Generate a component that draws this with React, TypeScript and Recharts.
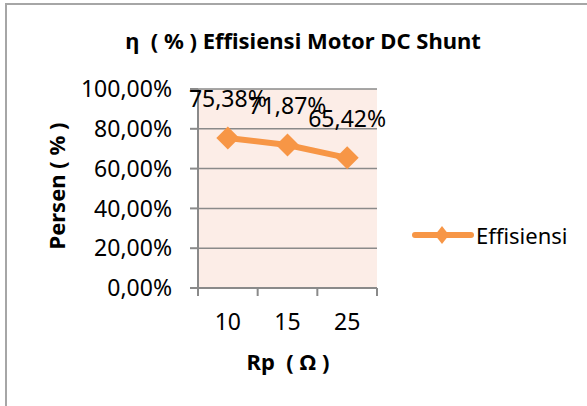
import React from 'react';
import { LineChart, Line, XAxis, YAxis, CartesianGrid, Legend, LabelList, Label } from 'recharts';

const categories = ['10', '15', '25'];
const efficiency = [0.7538, 0.7187, 0.6542];
const yTicks = [0, 0.2, 0.4, 0.6, 0.8, 1.0];
const seriesName = 'Effisiensi';
const title = 'η  ( % ) Effisiensi Motor DC Shunt';
const xTitle = 'Rp  ( Ω )';
const yTitle = 'Persen ( % )';

const data = categories.map((c, i) => ({ x: i + 0.5, cat: c, v: efficiency[i] }));
const xTicks = [0, 0.5, 1, 1.5, 2, 2.5, 3];

const FONT = '"Noto Sans", sans-serif';
const ORANGE = '#F79646';
const GRID = '#8a8a8a';

const fmtPct = (v: number) => (v * 100).toFixed(2).replace('.', ',') + '%';

const XTick = (props: any) => {
  const { x, y, payload } = props;
  const val = payload.value as number;
  if (Number.isInteger(val)) {
    return <line x1={x} x2={x} y1={y} y2={y + 8} stroke={GRID} strokeWidth={2} />;
  }
  const idx = Math.floor(val);
  return (
    <text x={x} y={y + 42} textAnchor="middle" fontFamily={FONT} fontSize={23} fill="#000">
      {categories[idx]}
    </text>
  );
};

const Diamond = (props: any) => {
  const { cx, cy } = props;
  if (cx == null || cy == null) return null;
  const s = 11.5;
  return <polygon points={`${cx},${cy - s} ${cx + s},${cy} ${cx},${cy + s} ${cx - s},${cy}`} fill={ORANGE} />;
};

const ValueLabel = (props: any) => {
  const { x, y, value } = props;
  return (
    <text x={x} y={y - 31} textAnchor="middle" fontFamily={FONT} fontSize={23} fill="#000">
      {fmtPct(value)}
    </text>
  );
};

const LegendContent = () => (
  <div style={{ display: 'flex', alignItems: 'center', width: 200, fontFamily: FONT, fontSize: 22, color: '#000', whiteSpace: 'nowrap' }}>
    <svg width={62} height={20} style={{ display: 'block', flexShrink: 0 }}>
      <line x1={3} x2={59} y1={10} y2={10} stroke={ORANGE} strokeWidth={6} strokeLinecap="round" />
      <polygon points="30,1 37,10 30,19 23,10" fill={ORANGE} />
    </svg>
    <span style={{ marginLeft: 2 }}>{seriesName}</span>
  </div>
);

export default function App() {
  return (
    <div style={{ position: 'absolute', left: 0, top: 0, width: 587, height: 406, overflow: 'hidden', background: '#fff' }}>
      <div style={{ position: 'absolute', left: 5, top: 3, width: 620, height: 440, borderLeft: '2px solid #a6a6a6', borderTop: '2px solid #a6a6a6' }} />
      <LineChart width={587} height={406} data={data} margin={{ top: 89, right: 210, bottom: 0, left: 0 }}>
        <text x={303} y={49} textAnchor="middle" fontFamily={FONT} fontSize={22} fontWeight="bold" fill="#000" style={{ whiteSpace: 'pre' }}>
          {title}
        </text>
        <CartesianGrid vertical={false} stroke={GRID} strokeWidth={1.5} fill="#FCEDE7" fillOpacity={1} />
        <XAxis
          dataKey="x"
          type="number"
          domain={[0, 3]}
          ticks={xTicks}
          interval={0}
          height={118}
          tickSize={0}
          tickMargin={0}
          tickLine={false}
          axisLine={{ stroke: GRID, strokeWidth: 2 }}
          tick={<XTick />}
        >
          <Label
            content={() => (
              <text x={288} y={370} textAnchor="middle" fontFamily={FONT} fontSize={22} fontWeight="bold" fill="#000" style={{ whiteSpace: 'pre' }}>
                {xTitle}
              </text>
            )}
          />
        </XAxis>
        <YAxis
          type="number"
          domain={[0, 1]}
          ticks={yTicks}
          interval={0}
          width={198}
          tickSize={8}
          tickMargin={18}
          tickLine={{ stroke: GRID, strokeWidth: 2 }}
          axisLine={{ stroke: GRID, strokeWidth: 2 }}
          tickFormatter={fmtPct}
          tick={{ fontFamily: FONT, fontSize: 23, fill: '#000' }}
        >
          <Label
            content={() => (
              <text
                x={0}
                y={0}
                transform="translate(65,186) rotate(-90)"
                textAnchor="middle"
                fontFamily={FONT}
                fontSize={22}
                fontWeight="bold"
                fill="#000"
              >
                {yTitle}
              </text>
            )}
          />
        </YAxis>
        <Legend
          content={<LegendContent />}
          wrapperStyle={{ position: 'absolute', left: 412, top: 220, width: 0, height: 0, overflow: 'visible' }}
        />
        <Line
          type="linear"
          dataKey="v"
          name={seriesName}
          stroke={ORANGE}
          strokeWidth={6}
          dot={<Diamond />}
          activeDot={false}
          isAnimationActive={false}
        >
          <LabelList dataKey="v" content={<ValueLabel />} />
        </Line>
      </LineChart>
    </div>
  );
}
